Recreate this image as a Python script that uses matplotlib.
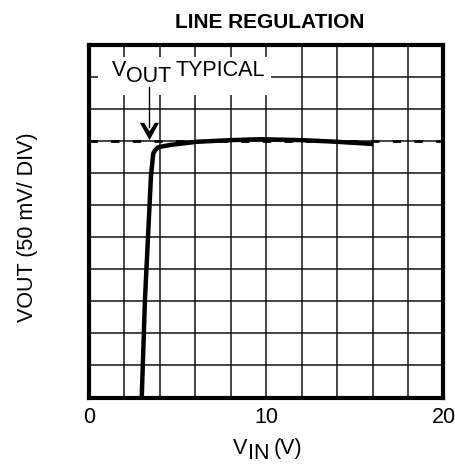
import matplotlib
matplotlib.use("Agg")
import matplotlib.pyplot as plt
from matplotlib.path import Path
from matplotlib.patches import Rectangle
import numpy as np

plt.rcParams['font.family'] = ['Liberation Sans', 'DejaVu Sans']

# Data (x in volts, y in divisions of 50 mV)
vin = [2.99, 3.17, 3.51, 3.64, 3.75, 3.92, 4.58, 6.09, 7.96, 9.66, 12.08, 13.98, 16.03]
vout_div = [0.0, 3.04, 6.91, 7.62, 7.72, 7.81, 7.88, 7.98, 8.03, 8.06, 8.03, 7.98, 7.91]
vout_typical = 8.0
x_ticks = [0, 10, 20]
x_tick_labels = ['0', '10', '20']
x_grid = list(range(0, 21, 2))
y_grid = list(range(0, 12))

W, H = 456, 465
fig = plt.figure(figsize=(W / 100, H / 100), dpi=100)
ax = fig.add_axes([88.7 / W, (H - 397.5) / H, (443.5 - 88.7) / W, (397.5 - 45) / H])
ax.set_xlim(0, 20)
ax.set_ylim(0, 11)

# grid
for xv in x_grid[1:-1]:
    ax.axvline(xv, color='#111111', lw=1.1, zorder=1)
for yv in y_grid[1:-1]:
    ax.axhline(yv, color='#111111', lw=1.1, zorder=1)

# dashed typical line
ax.axhline(vout_typical, color='black', lw=2.0, dashes=(3.0, 4.8), zorder=2)

# curve
ax.plot(vin, vout_div, color='black', lw=3.2, solid_joinstyle='round',
        solid_capstyle='butt', zorder=4)

# white box behind annotation text
ax.add_patch(Rectangle((0.53, 9.44), 10.28 - 0.53, 10.62 - 9.44,
                       facecolor='white', edgecolor='none', zorder=3))

# annotation text: V OUT TYPICAL
fs = 15.5
t1 = ax.text(1.296, 10.04, 'V', fontsize=fs, ha='left', va='baseline', zorder=5)
t2 = ax.annotate('OUT', xy=(1, 0), xycoords=t1, xytext=(0.3, -4.3),
                 textcoords='offset points', fontsize=fs, ha='left', va='bottom', zorder=5)
t3 = ax.annotate('TYPICAL', xy=(1, 0), xycoords=t2, xytext=(3.0, 4.3),
                 textcoords='offset points', fontsize=fs, ha='left', va='bottom', zorder=5)

# arrow shaft and head
ax.plot([3.40, 3.40], [9.70, 8.45], color='black', lw=1.0, zorder=5)
head = Path([(0, -8.35), (-9.2, 8.35), (-5.2, 8.35), (0, 0.2), (5.2, 8.35), (9.2, 8.35), (0, -8.35)],
            [Path.MOVETO] + [Path.LINETO] * 5 + [Path.CLOSEPOLY])
ax.plot([3.40], [8.317], marker=head, markersize=13.8, color='black',
        markeredgewidth=0, zorder=6)

# axes styling
for sp in ax.spines.values():
    sp.set_linewidth(3.0)
    sp.set_color('black')
    sp.set_zorder(7)
ax.set_xticks(x_ticks)
ax.set_xticklabels(x_tick_labels, fontsize=15.5)
ax.set_yticks([])
ax.tick_params(axis='x', length=0, pad=7)

# title
fig.text(270 / W, 1 - 22.5 / H, 'LINE REGULATION', fontsize=15, fontweight='bold',
         ha='center', va='center')

# y label
fig.text(28 / W, 1 - 227 / H, 'VOUT (50 mV/ DIV)', fontsize=15.5, rotation=90,
         ha='center', va='center')

# x label: V_IN (V)
x1 = ax.text(0.4067, -0.160, 'V', transform=ax.transAxes, fontsize=15.5,
             ha='left', va='baseline')
x2 = ax.annotate('IN', xy=(1, 0), xycoords=x1, xytext=(0.3, -3.4),
                 textcoords='offset points', fontsize=15.5, ha='left', va='bottom')
x3 = ax.annotate('(V)', xy=(1, 0), xycoords=x2, xytext=(3.0, 3.4),
                 textcoords='offset points', fontsize=15.5, ha='left', va='bottom')

fig.savefig('out.png', dpi=100, facecolor='white')
